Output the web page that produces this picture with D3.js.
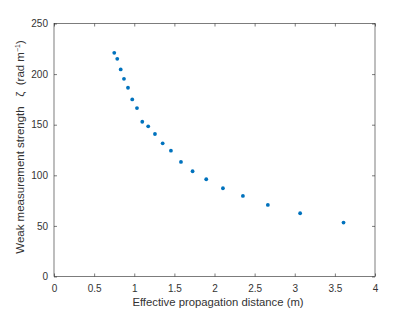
<html>
<head>
<script src="https://d3js.org/d3.v7.min.js" charset="utf-8"></script>
<style>
  body { margin: 0; background: #fff; }
  text { font-family: "Liberation Sans", Helvetica, Arial, sans-serif; fill: #333; }
</style>
</head>
<body>
<svg id="chart"></svg>
<script>
// distance (m) and strength (rad/m)
var distance = [0.751, 0.788, 0.831, 0.872, 0.922, 0.975, 1.034, 1.100, 1.174, 1.258,
                1.354, 1.457, 1.582, 1.727, 1.897, 2.105, 2.354, 2.665, 3.067, 3.608];
var strength = [221.0, 215.1, 204.6, 195.3, 186.5, 175.0, 166.4, 152.9, 148.4, 140.8,
                131.6, 124.3, 113.2, 104.0, 96.1, 87.2, 79.6, 70.7, 62.5, 53.3];
var xTicks = [0, 0.5, 1, 1.5, 2, 2.5, 3, 3.5, 4];
var yTicks = [0, 50, 100, 150, 200, 250];

var w = 415, h = 312;
var mLeft = 54, mRight = 375, mTop = 23.5, mBottom = 276.5;

var svg = d3.select("#chart").attr("width", w).attr("height", h);

var x = d3.scaleLinear().domain([0, 4]).range([mLeft, mRight]);
var y = d3.scaleLinear().domain([0, 250]).range([mBottom, mTop]);

var axisColor = "#262626";

function style(g) {
    g.select(".domain").remove();
    g.selectAll(".tick line").attr("stroke", axisColor).attr("stroke-width", 0.6);
    g.selectAll(".tick text").attr("font-size", 10).attr("fill", "#333")
        .attr("font-family", "Liberation Sans, Helvetica, Arial, sans-serif");
}

// bottom axis, ticks pointing in
svg.append("g").attr("transform", "translate(0," + mBottom + ")")
    .call(d3.axisBottom(x).tickValues(xTicks).tickSizeInner(-3).tickSizeOuter(0).tickPadding(8.5).tickFormat(d3.format("")))
    .call(style);
// top mirror ticks
svg.append("g").attr("transform", "translate(0," + mTop + ")")
    .call(d3.axisTop(x).tickValues(xTicks).tickSizeInner(-3).tickSizeOuter(0).tickFormat(""))
    .call(style);
// left axis
svg.append("g").attr("transform", "translate(" + mLeft + ",0)")
    .call(d3.axisLeft(y).tickValues(yTicks).tickSizeInner(-3).tickSizeOuter(0).tickPadding(6))
    .call(style);
// right mirror ticks
svg.append("g").attr("transform", "translate(" + mRight + ",0)")
    .call(d3.axisRight(y).tickValues(yTicks).tickSizeInner(-3).tickSizeOuter(0).tickFormat(""))
    .call(style);

// box
svg.append("rect")
    .attr("x", mLeft).attr("y", mTop)
    .attr("width", mRight - mLeft).attr("height", mBottom - mTop)
    .attr("fill", "none").attr("stroke", axisColor).attr("stroke-width", 0.6);

var pts = distance.map(function(d, i) { return {x: d, y: strength[i]}; });

svg.selectAll("circle.pt")
    .data(pts)
    .enter()
    .append("circle")
    .attr("class", "pt")
    .attr("cx", function(d) { return x(d.x); })
    .attr("cy", function(d) { return y(d.y); })
    .attr("r", 1.9)
    .style("fill", "#0072BD");

svg.append("text")
    .attr("x", (mLeft + mRight) / 2 + 3.5)
    .attr("y", 306)
    .attr("text-anchor", "middle")
    .attr("font-size", 11.3)
    .text("Effective propagation distance (m)");

var yl = svg.append("text")
    .attr("transform", "translate(24,147) rotate(-90)")
    .attr("text-anchor", "middle")
    .attr("font-size", 11.5)
    .attr("xml:space", "preserve")
    .style("white-space", "pre");
yl.append("tspan").text("Weak measurement strength   \u03b6  (rad m");
yl.append("tspan").attr("font-size", 7).attr("dy", -4).text("\u22121");
yl.append("tspan").attr("dy", 4).text(")");
</script>
</body>
</html>
